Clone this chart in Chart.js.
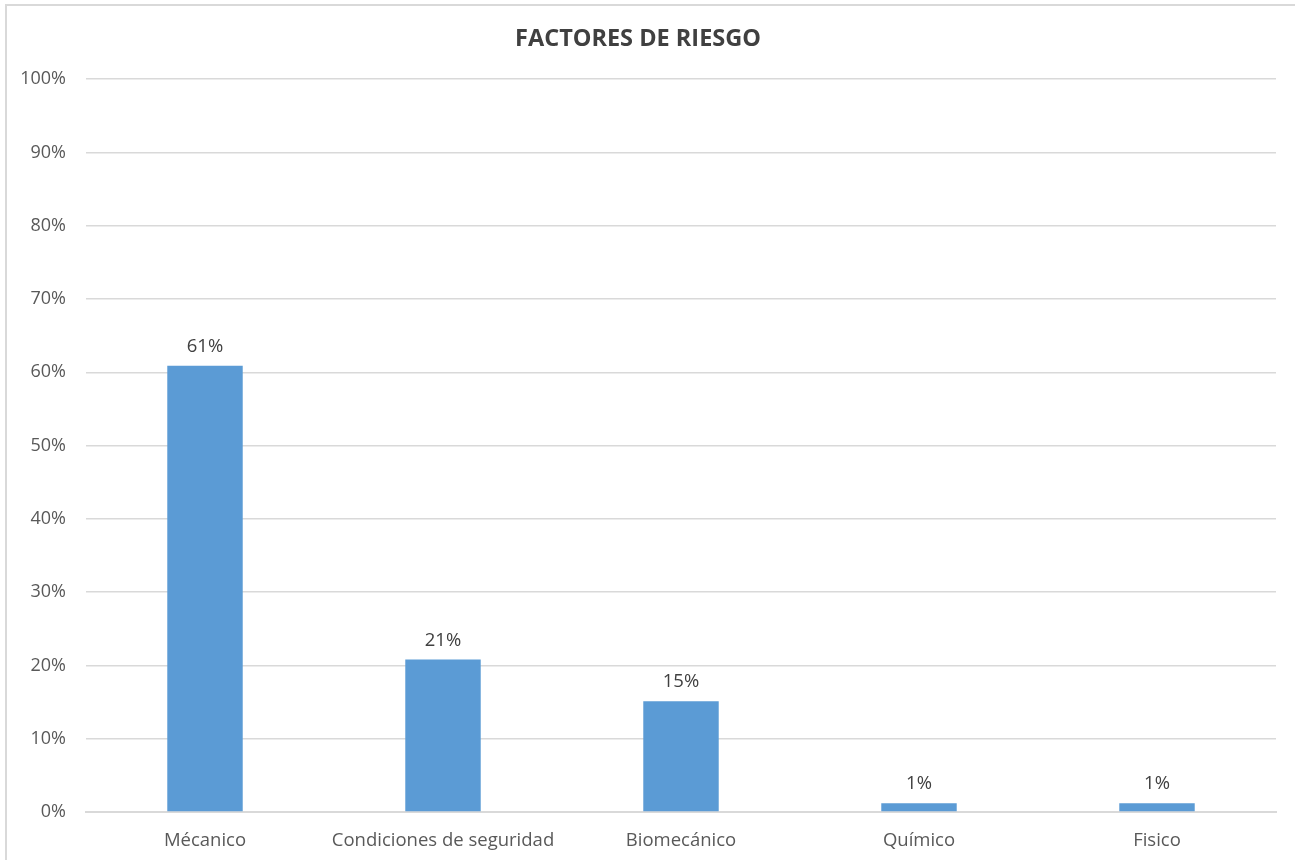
<!DOCTYPE html>
<html>
<head>
<meta charset="utf-8">
<script src="https://cdn.jsdelivr.net/npm/chart.js@4"></script>
<style>
  html, body { margin: 0; padding: 0; background: #fff; overflow: hidden; }
  #frame { position: absolute; left: 5px; top: 4px; width: 1300px; height: 900px; border: 2px solid #d9d9d9; box-sizing: border-box; }
  #myChart { position: absolute; left: 0; top: 0; }
</style>
</head>
<body>
<div id="frame"></div>
<canvas id="myChart" width="1295" height="860"></canvas>
<script>
// categories and values (fractions of 1)
const categories = ['Mécanico', 'Condiciones de seguridad', 'Biomecánico', 'Químico', 'Fisico'];
const values = [0.609, 0.208, 0.151, 0.012, 0.012];
const valueLabels = ['61%', '21%', '15%', '1%', '1%'];

const FONT = "'Open Sans', sans-serif";

// writes the percentage above each bar
const barLabels = {
	id: 'barLabels',
	afterDatasetsDraw(chart) {
		const ctx = chart.ctx;
		const meta = chart.getDatasetMeta(0);
		ctx.save();
		ctx.font = '18.5px ' + FONT;
		ctx.fillStyle = '#404040';
		ctx.textAlign = 'center';
		ctx.textBaseline = 'alphabetic';
		meta.data.forEach((bar, i) => {
			ctx.fillText(valueLabels[i], bar.x, bar.y - 14);
		});
		ctx.restore();
	}
};

const ctx = document.getElementById('myChart').getContext('2d');
const chart = new Chart(ctx, {
	type: 'bar',
	data: {
		labels: categories,
		datasets: [{
			label: 'Factores de riesgo',
			data: values,
			backgroundColor: '#5b9bd5',
			categoryPercentage: 0.317,
			barPercentage: 1
		}]
	},
	options: {
		responsive: false,
		animation: false,
		layout: { padding: { top: 0, right: 19, bottom: 0, left: 0 } },
		plugins: {
			legend: { display: false },
			tooltip: { enabled: false },
			title: {
				display: true,
				text: 'FACTORES DE RIESGO',
				color: '#404040',
				font: { family: FONT, size: 23.5, weight: 'bold', lineHeight: 1.2 },
				padding: { top: 25, bottom: 26 }
			}
		},
		scales: {
			x: {
				grid: { display: false, drawTicks: false },
				border: { color: '#d9d9d9', width: 2 },
				ticks: { color: '#595959', font: { family: FONT, size: 18.5 }, padding: 18, maxRotation: 0 },
				afterFit(scale) { scale.height = 48; }
			},
			y: {
				min: 0,
				max: 1,
				grid: { color: '#d9d9d9', lineWidth: 1.5, drawTicks: false },
				border: { display: false },
				ticks: {
					stepSize: 0.1,
					color: '#595959',
					font: { family: FONT, size: 18 },
					padding: 20,
					callback: v => Math.round(v * 100) + '%'
				},
				afterFit(scale) { scale.width = 86; }
			}
		}
	},
	plugins: [barLabels]
});
</script>
</body>
</html>
